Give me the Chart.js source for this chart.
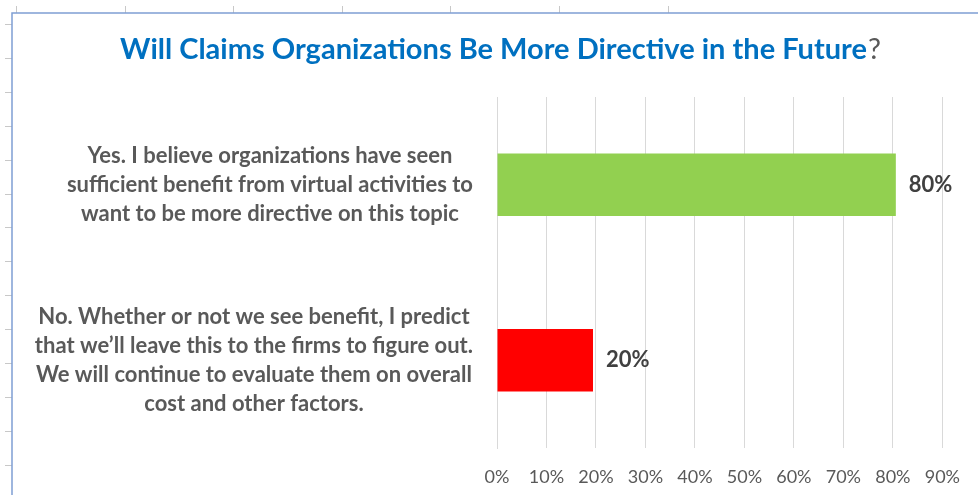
<!DOCTYPE html>
<html>
<head>
<meta charset="utf-8">
<script src="https://cdn.jsdelivr.net/npm/chart.js@4/dist/chart.umd.min.js"></script>
<style>
    body { margin: 0; background: #fff; overflow: hidden; }
    #wrap { width: 978px; height: 495px; position: relative; }
</style>
</head>
<body>
<div id="wrap"><canvas id="surveyChart"></canvas></div>
<script>
// answers, one array of lines per bar (top to bottom)
const answers = [
    ['Yes. I believe organizations have seen', 'sufficient benefit from virtual activities to', 'want to be more directive on this topic'],
    ['No. Whether or not we see benefit, I predict', 'that we\u2019ll leave this to the firms to figure out.', 'We will continue to evaluate them on overall', 'cost and other factors.']
];
const shares = [80.6, 19.4];
const shareLabels = ['80%', '20%'];
const barColors = ['#92d050', '#ff0000'];
const axisMax = 90;
const axisStep = 10;
const titleMain = 'Will Claims Organizations Be More Directive in the Future';
const titleEnd = '?';

const FONT = 'Lato, "Open Sans", sans-serif';

// sheet frame + ruler ticks behind the chart
const framePlugin = {
    id: 'frame',
    beforeDraw(chart) {
        const ctx = chart.ctx;
        ctx.save();
        ctx.fillStyle = '#fff';
        ctx.fillRect(0, 0, chart.width, chart.height);
        ctx.strokeStyle = '#c8c8c8';
        ctx.lineWidth = 1;
        for (let x = 16; x < 700; x += 108.6) {
            ctx.beginPath();
            ctx.moveTo(Math.round(x) + 0.5, 6);
            ctx.lineTo(Math.round(x) + 0.5, 13);
            ctx.stroke();
        }
        for (let y = 24; y < chart.height; y += 33.9) {
            ctx.beginPath();
            ctx.moveTo(5, Math.round(y) + 0.5);
            ctx.lineTo(12, Math.round(y) + 0.5);
            ctx.stroke();
        }
        ctx.strokeStyle = '#7f9fd4';
        ctx.lineWidth = 1.5;
        ctx.beginPath();
        ctx.moveTo(12, chart.height);
        ctx.lineTo(12, 13);
        ctx.lineTo(chart.width, 13);
        ctx.stroke();
        ctx.restore();
    }
};

// two-colour title, answer labels and value labels
const textPlugin = {
    id: 'texts',
    afterDraw(chart) {
        const ctx = chart.ctx;
        ctx.save();

        // title
        ctx.textBaseline = 'alphabetic';
        ctx.textAlign = 'left';
        ctx.font = 'bold 29px ' + FONT;
        const w1 = ctx.measureText(titleMain).width;
        ctx.font = '29px ' + FONT;
        const w2 = ctx.measureText(titleEnd).width;
        let tx = 500 - (w1 + w2) / 2;
        ctx.font = 'bold 29px ' + FONT;
        ctx.fillStyle = '#0070c0';
        ctx.fillText(titleMain, tx, 59);
        ctx.font = '29px ' + FONT;
        ctx.fillStyle = '#595959';
        ctx.fillText(titleEnd, tx + w1 + 1, 59);

        // answer labels, lines centred inside a right-aligned block
        const yScale = chart.scales.y;
        const lh = 28.8;
        ctx.font = 'bold 22px ' + FONT;
        ctx.fillStyle = '#595959';
        ctx.textAlign = 'center';
        ctx.textBaseline = 'middle';
        answers.forEach((lines, i) => {
            const cy = yScale.getPixelForValue(i);
            const maxW = Math.max(...lines.map(l => ctx.measureText(l).width));
            const cx = 473 - maxW / 2;
            lines.forEach((line, j) => {
                ctx.fillText(line, cx, cy + (j - (lines.length - 1) / 2) * lh);
            });
        });

        // value labels
        ctx.font = 'bold 22px ' + FONT;
        ctx.fillStyle = '#404040';
        ctx.textAlign = 'left';
        chart.getDatasetMeta(0).data.forEach((bar, i) => {
            ctx.fillText(shareLabels[i], bar.x + 13, bar.y);
        });
        ctx.restore();
    }
};

new Chart(document.getElementById('surveyChart'), {
    type: 'bar',
    data: {
        labels: answers,
        datasets: [{
            data: shares,
            backgroundColor: barColors,
            borderWidth: 0,
            categoryPercentage: 1,
            barPercentage: 0.355
        }]
    },
    options: {
        indexAxis: 'y',
        responsive: true,
        maintainAspectRatio: false,
        animation: false,
        layout: { padding: { left: 0, top: 97, right: 32, bottom: 0 } },
        plugins: {
            legend: { display: false },
            title: { display: false },
            tooltip: { enabled: false }
        },
        scales: {
            x: {
                min: 0,
                max: axisMax,
                ticks: {
                    stepSize: axisStep,
                    padding: 18,
                    color: '#595959',
                    font: { family: FONT, size: 18 },
                    callback: v => v + '%'
                },
                grid: { color: '#d9d9d9', drawTicks: false },
                border: { display: false },
                afterFit: scale => { scale.height = 47; }
            },
            y: {
                ticks: { display: false },
                grid: { display: false },
                border: { color: '#d9d9d9' },
                afterFit: scale => { scale.width = 497; }
            }
        }
    },
    plugins: [framePlugin, textPlugin]
});
</script>
</body>
</html>
